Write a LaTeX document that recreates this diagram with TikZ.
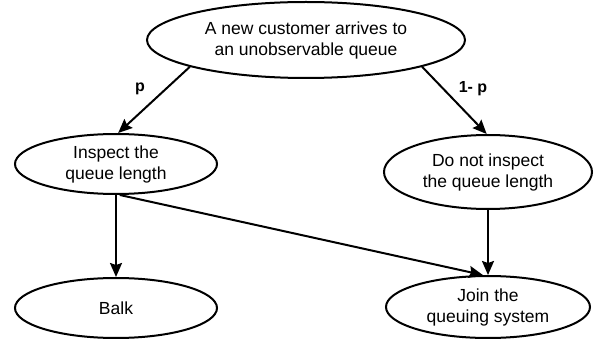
\documentclass[tikz,border=0pt]{standalone}
\usepackage{fontspec}
\setmainfont{Liberation Sans}
\usetikzlibrary{shapes.geometric,arrows.meta}
\begin{document}
\begin{tikzpicture}[x=1pt,y=-1pt,
  oval/.style={ellipse,draw=black,line width=2pt,inner sep=0pt,align=center,
    font=\fontsize{17.5}{21}\selectfont},
  conn/.style={line width=2pt,-{Stealth[length=14pt,width=12pt,inset=2pt]}},
  lbl/.style={font=\fontsize{16}{19}\selectfont\bfseries}]
\useasboundingbox (0,0) rectangle (600,339);
\node[oval,minimum width=318pt,minimum height=76pt] (top) at (306,40) {A new customer arrives to\\an unobservable queue};
\node[oval,minimum width=202pt,minimum height=60pt] (insp) at (116,164) {Inspect the\\queue length};
\node[oval,minimum width=208pt,minimum height=74pt] (noinsp) at (488,172) {Do not inspect\\the queue length};
\node[oval,minimum width=202pt,minimum height=60pt] (balk) at (116,308) {Balk};
\node[oval,minimum width=204pt,minimum height=62pt] (join) at (488,307) {Join the\\queuing system};
\draw[conn] (top.193) -- (insp.86);
\draw[conn] (top.347.6) -- (noinsp.92);
\draw[conn] (insp.south) -- (balk.north);
\draw[conn] (noinsp.south) -- (join.north);
\draw[conn] (insp.277) -- (join.99);
\node[lbl] (p) at (140,89) {p};
\node[lbl] (q) at (473,89) {1- p};
\end{tikzpicture}
\end{document}
